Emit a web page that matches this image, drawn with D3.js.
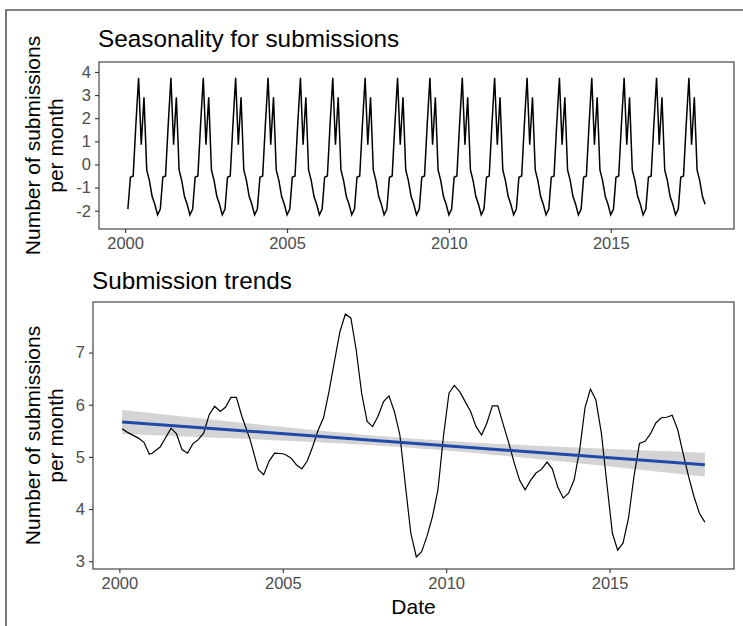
<!DOCTYPE html>
<html>
<head>
<meta charset="utf-8">
<script src="https://cdn.jsdelivr.net/npm/d3@7"></script>
<style>
  body { margin: 0; background: #fff; }
  svg { display: block; font-family: "Liberation Sans", Arial, sans-serif; }
</style>
</head>
<body>
<svg id="chart" width="743" height="626"></svg>
<script>
// seasonal component, one value per calendar month (Jan..Dec)
const seasonMonths = ["Jan","Feb","Mar","Apr","May","Jun","Jul","Aug","Sep","Oct","Nov","Dec"];
const seasonValues = [-2.18, -1.93, -0.55, -0.50, 1.70, 3.75, 0.85, 2.90, -0.24, -0.70, -1.39, -1.72];
const seriesStart = "2000-02";
const seriesEnd = "2017-12";

// trend component
const trendDates = [
  "2000-02","2000-04","2000-08","2000-10","2000-12","2001-01","2001-04","2001-08","2001-10","2001-12",
  "2002-02","2002-04","2002-06","2002-08","2002-10","2002-12","2003-02","2003-04","2003-06","2003-08",
  "2003-10","2004-01","2004-04","2004-06","2004-08","2004-10","2005-01","2005-02","2005-04","2005-06",
  "2005-08","2005-10","2005-12","2006-02","2006-04","2006-06","2006-08","2006-10","2006-12","2007-02",
  "2007-04","2007-06","2007-08","2007-10","2007-12","2008-02","2008-04","2008-06","2008-08","2008-10",
  "2008-12","2009-02","2009-04","2009-06","2009-08","2009-10","2009-12","2010-02","2010-04","2010-06",
  "2010-08","2010-10","2010-12","2011-02","2011-04","2011-06","2011-08","2011-10","2011-12","2012-02",
  "2012-04","2012-06","2012-08","2012-10","2012-12","2013-02","2013-04","2013-06","2013-08","2013-10",
  "2013-12","2014-02","2014-04","2014-06","2014-08","2014-10","2014-12","2015-02","2015-04","2015-06",
  "2015-08","2015-10","2015-12","2016-02","2016-04","2016-06","2016-08","2016-10","2016-12","2017-02",
  "2017-04","2017-06","2017-08","2017-10","2017-12"
];
const trendValues = [
  5.54, 5.47, 5.36, 5.28, 5.05, 5.07, 5.19, 5.55, 5.44, 5.14,
  5.07, 5.25, 5.33, 5.46, 5.81, 5.97, 5.87, 5.95, 6.14, 6.14,
  5.78, 5.33, 4.76, 4.66, 4.92, 5.07, 5.06, 5.04, 4.98, 4.85,
  4.77, 4.92, 5.20, 5.52, 5.75, 6.25, 6.83, 7.40, 7.74, 7.66,
  7.05, 6.22, 5.68, 5.58, 5.78, 6.06, 6.17, 5.87, 5.42, 4.47,
  3.54, 3.08, 3.18, 3.48, 3.86, 4.37, 5.39, 6.22, 6.37, 6.25,
  6.06, 5.87, 5.58, 5.42, 5.65, 5.98, 5.98, 5.62, 5.27, 4.88,
  4.55, 4.37, 4.55, 4.69, 4.76, 4.90, 4.77, 4.42, 4.21, 4.31,
  4.56, 5.14, 5.94, 6.30, 6.09, 5.46, 4.50, 3.54, 3.21, 3.35,
  3.83, 4.63, 5.26, 5.30, 5.44, 5.65, 5.75, 5.76, 5.80, 5.52,
  5.07, 4.63, 4.24, 3.92, 3.75
];

// linear fit shown in blue, with its confidence band half-widths
const fitStart = 5.67, fitEnd = 4.85;
const ciMid = 0.09, ciEdge = 0.23;

const xTickYears = [2000, 2005, 2010, 2015];
const seasonTicks = [-2, -1, 0, 1, 2, 3, 4];
const trendTicks = [3, 4, 5, 6, 7];

const parse = d3.timeParse("%Y-%m");
const svg = d3.select("#chart");

// outer frame of the original figure
svg.append("path")
  .attr("d", "M6,626 V10 H743")
  .attr("fill", "none")
  .attr("stroke", "#5a5a5a")
  .attr("stroke-width", 1.6);

const months = d3.timeMonth.range(parse(seriesStart), d3.timeMonth.offset(parse(seriesEnd), 1));
const seasonal = months.map(d => ({date: d, value: seasonValues[d.getMonth()]}));
const trend = trendDates.map((d, i) => ({date: parse(d), value: trendValues[i]}));

const t0 = parse(seriesStart), t1 = parse(seriesEnd);
const span = t1 - t0;
const xDomain = [new Date(+t0 - span * 0.05), new Date(+t1 + span * 0.05)];

function panel(cfg) {
  const x = d3.scaleTime().domain(xDomain).range([cfg.left, cfg.right]);
  const y = d3.scaleLinear().domain(cfg.yDomain).range([cfg.bottom, cfg.top]);
  const g = svg.append("g");

  const xAxis = g.append("g")
    .attr("transform", `translate(0,${cfg.bottom})`)
    .call(d3.axisBottom(x).tickValues(xTickYears.map(yr => new Date(yr, 0, 1)))
      .tickFormat(d3.timeFormat("%Y")).tickSize(4).tickPadding(4));
  const yAxis = g.append("g")
    .attr("transform", `translate(${cfg.left},0)`)
    .call(d3.axisLeft(y).tickValues(cfg.ticks).tickSize(4).tickPadding(4)
      .tickFormat(d => d < 0 ? "-" + Math.abs(d) : d));
  [xAxis, yAxis].forEach(a => {
    a.select(".domain").remove();
    a.selectAll("line").attr("stroke", "#333").attr("stroke-width", 1.1);
    a.selectAll("text").attr("fill", "#4d4d4d").style("font-size", "16.5px")
      .style("font-family", "Liberation Sans, Arial, sans-serif");
  });

  g.append("text")
    .attr("x", cfg.titleX).attr("y", cfg.titleY)
    .style("font-size", "24.3px").attr("fill", "#000")
    .text(cfg.title);

  const cy = (cfg.top + cfg.bottom) / 2;
  const lab = g.append("text")
    .attr("transform", `translate(${cfg.labelX},${cy}) rotate(-90)`)
    .attr("text-anchor", "middle")
    .style("font-size", "21px").attr("fill", "#000");
  lab.append("tspan").attr("x", 0).attr("dy", "-0.5em").text("Number of submissions");
  lab.append("tspan").attr("x", 0).attr("dy", "1.1em").text("per month");

  return {g, x, y};
}

// seasonality panel
const seasonPanel = panel({
  left: 99, right: 734, top: 62, bottom: 229,
  yDomain: [-2.79, 4.43], ticks: seasonTicks,
  title: "Seasonality for submissions", titleX: 98, titleY: 47, labelX: 50
});
seasonPanel.g.append("path")
  .datum(seasonal)
  .attr("fill", "none").attr("stroke", "#000").attr("stroke-width", 1.5)
  .attr("d", d3.line().x(d => seasonPanel.x(d.date)).y(d => seasonPanel.y(d.value)));
seasonPanel.g.append("rect")
  .attr("x", 99).attr("y", 62).attr("width", 635).attr("height", 167)
  .attr("fill", "none").attr("stroke", "#333").attr("stroke-width", 1.1);

// trend panel
const trendPanel = panel({
  left: 93, right: 734, top: 302, bottom: 569,
  yDomain: [2.85, 7.97], ticks: trendTicks,
  title: "Submission trends", titleX: 92, titleY: 289, labelX: 50
});

const fitAt = t => fitStart + (fitEnd - fitStart) * (t - t0) / span;
const ciAt = t => {
  const u = (t - t0) / span * 2 - 1;
  return Math.sqrt(ciMid * ciMid + (ciEdge * ciEdge - ciMid * ciMid) * u * u);
};
const fitDates = d3.range(0, 101).map(i => new Date(+t0 + span * i / 100));

trendPanel.g.append("path")
  .datum(fitDates)
  .attr("fill", "#999").attr("fill-opacity", 0.42)
  .attr("d", d3.area().x(d => trendPanel.x(d))
    .y0(d => trendPanel.y(fitAt(d) - ciAt(d))).y1(d => trendPanel.y(fitAt(d) + ciAt(d))));

trendPanel.g.append("path")
  .datum(trend)
  .attr("fill", "none").attr("stroke", "#000").attr("stroke-width", 1.2)
  .attr("d", d3.line().x(d => trendPanel.x(d.date)).y(d => trendPanel.y(d.value)));

trendPanel.g.append("path")
  .datum([t0, t1])
  .attr("fill", "none").attr("stroke", "#1f4aa8").attr("stroke-width", 3)
  .attr("d", d3.line().x(d => trendPanel.x(d)).y(d => trendPanel.y(fitAt(d))));

trendPanel.g.append("rect")
  .attr("x", 93).attr("y", 302).attr("width", 641).attr("height", 267)
  .attr("fill", "none").attr("stroke", "#333").attr("stroke-width", 1.1);

svg.append("text")
  .attr("x", (93 + 734) / 2).attr("y", 614)
  .attr("text-anchor", "middle")
  .style("font-size", "21px")
  .text("Date");
</script>
</body>
</html>
